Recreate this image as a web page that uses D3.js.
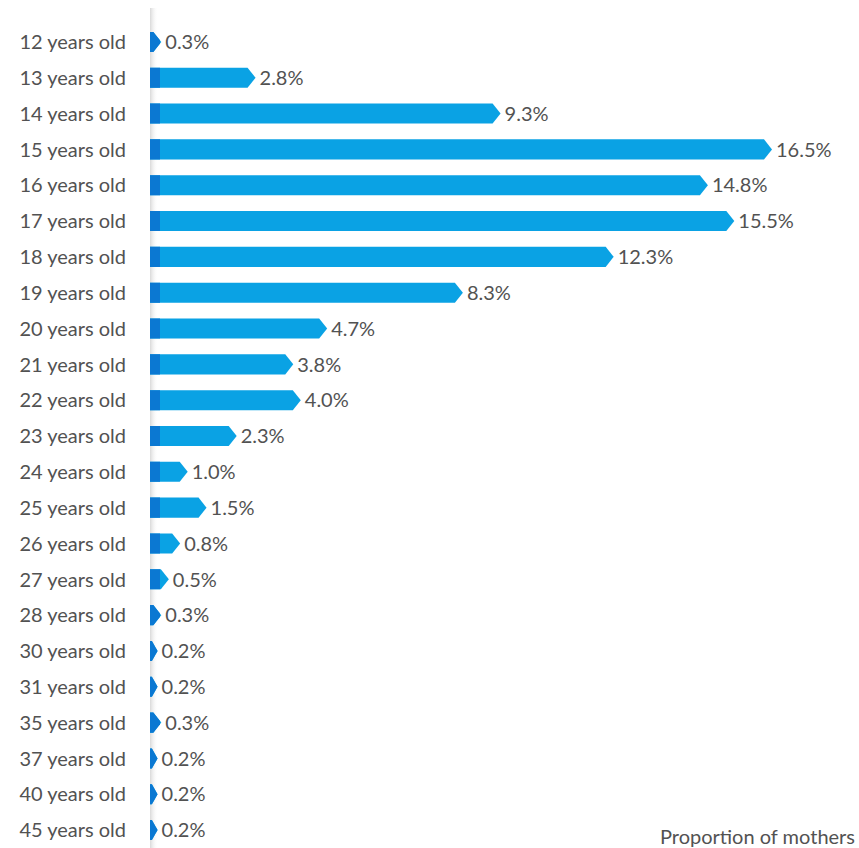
<!DOCTYPE html>
<html>
<head>
<meta charset="utf-8">
<script src="https://cdn.jsdelivr.net/npm/d3@7"></script>
<style>
  html, body { margin: 0; padding: 0; background: #fff; }
  svg { display: block; font-family: Lato, "Open Sans", sans-serif; }
</style>
</head>
<body>
<svg id="chart" width="859" height="848"></svg>
<script>
// Age of mother at first birth and share of mothers in each age group
const ages = ["12 years old", "13 years old", "14 years old", "15 years old", "16 years old",
  "17 years old", "18 years old", "19 years old", "20 years old", "21 years old",
  "22 years old", "23 years old", "24 years old", "25 years old", "26 years old",
  "27 years old", "28 years old", "30 years old", "31 years old", "35 years old",
  "37 years old", "40 years old", "45 years old"];
const shares = [0.3, 2.8, 9.3, 16.5, 14.8, 15.5, 12.3, 8.3, 4.7, 3.8, 4.0, 2.3, 1.0, 1.5,
  0.8, 0.5, 0.3, 0.2, 0.2, 0.3, 0.2, 0.2, 0.2];
const axisTitle = "Proportion of mothers";

const svg = d3.select("#chart");
const W = 859, H = 848;
const x0 = 150;
const fontSize = 20;
const textColor = "#525252";

const x = d3.scaleLinear().domain([0, 16.5]).range([x0, 772]);
const y = d3.scaleBand().domain(ages).range([24, 848]).paddingInner(0.44).paddingOuter(0.22);

const defs = svg.append("defs");
const grad = defs.append("linearGradient").attr("id", "axisShade")
  .attr("x1", "0").attr("x2", "1").attr("y1", "0").attr("y2", "0");
grad.append("stop").attr("offset", "0").attr("stop-color", "#d9d9d9");
grad.append("stop").attr("offset", "1").attr("stop-color", "#ffffff").attr("stop-opacity", 0);

// shaded baseline
svg.append("rect").attr("x", x0).attr("y", 8).attr("width", 8).attr("height", H - 8)
  .attr("fill", "url(#axisShade)");

defs.append("clipPath").attr("id", "baseClip")
  .append("rect").attr("x", x0).attr("y", 0).attr("width", 10).attr("height", H);

function arrowPath(v, name) {
  const tip = x(v);
  const w = tip - x0;
  const h = y.bandwidth();
  const top = y(name), mid = top + h / 2, bot = top + h;
  const head = Math.min(8, w * 0.75);
  const bodyEnd = tip - head;
  return `M${x0},${top}L${bodyEnd},${top}L${tip},${mid}L${bodyEnd},${bot}L${x0},${bot}Z`;
}

const rows = ages.map((a, i) => ({ age: a, v: shares[i] }));

const g = svg.append("g");
g.selectAll("path.bar").data(rows).join("path")
  .attr("class", "bar")
  .attr("d", d => arrowPath(d.v, d.age))
  .attr("fill", "#0aa2e4");
g.selectAll("path.base").data(rows).join("path")
  .attr("class", "base")
  .attr("d", d => arrowPath(d.v, d.age))
  .attr("clip-path", "url(#baseClip)")
  .attr("fill", "#0b78d2");

// value labels
g.selectAll("text.val").data(rows).join("text")
  .attr("class", "val")
  .attr("x", d => x(d.v) + 4)
  .attr("y", d => y(d.age) + y.bandwidth() / 2)
  .attr("dy", "0.36em")
  .attr("font-size", fontSize)
  .attr("fill", textColor)
  .text(d => d.v.toFixed(1) + "%");

// category labels
const yAxis = d3.axisLeft(y).tickSize(0).tickPadding(0);
const ax = svg.append("g").attr("transform", "translate(126,0)").call(yAxis);
ax.select(".domain").remove();
ax.selectAll("text").attr("font-size", fontSize).attr("fill", textColor)
  .attr("font-family", "Lato, 'Open Sans', sans-serif").attr("dy", "0.36em");

svg.append("text").attr("x", 855).attr("y", 844).attr("text-anchor", "end")
  .attr("font-size", fontSize).attr("fill", textColor).text(axisTitle);
</script>
</body>
</html>
